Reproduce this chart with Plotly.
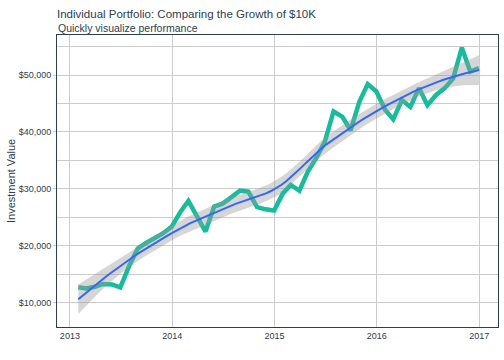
import numpy as np
import pandas as pd
import plotly.graph_objects as go

# Monthly portfolio values (month-end), Jan 2013 - Dec 2016
dates = pd.date_range("2013-01-31", "2016-12-31", freq="ME")
values_2013 = [12700, 12500, 12800, 13300, 13200, 12700, 16400, 19500, 20500, 21300, 22200, 23400]
values_2014 = [26000, 27900, 25000, 22500, 26900, 27400, 28500, 29700, 29500, 26800, 26400, 26200]
values_2015 = [29200, 30700, 29700, 33000, 35500, 38300, 43600, 42700, 40300, 45300, 48400, 47100]
values_2016 = [43900, 42200, 45600, 44400, 47700, 44700, 46500, 47700, 49400, 54800, 50600, 51200]
investment = values_2013 + values_2014 + values_2015 + values_2016

y_ticks = [10000, 20000, 30000, 40000, 50000]
y_tick_labels = ["$10,000", "$20,000", "$30,000", "$40,000", "$50,000"]
x_ticks = ["2013-01-01", "2014-01-01", "2015-01-01", "2016-01-01", "2017-01-01"]
x_tick_labels = ["2013", "2014", "2015", "2016", "2017"]

# ---- loess (span 0.75, degree 2, kd-tree vertices + cubic Hermite interpolation) ----
x = (dates - pd.Timestamp("1970-01-01")).days.values.astype(float)
y = np.array(investment, dtype=float)
n = len(x)
span = 0.75
q = int(np.floor(n * span))
fc = int(np.floor(n * span * 0.2))


def local_rows(x0):
    d = np.abs(x - x0)
    h = np.sort(d)[q - 1]
    u = np.clip(d / h, 0, 1)
    w = (1 - u ** 3) ** 3
    t = (x - x0) / h
    X = np.vstack([np.ones(n), t, t ** 2]).T
    XtW = X.T * w
    A = np.linalg.solve(XtW @ X, XtW)
    return A[0], A[1] / h


xs = np.sort(x)
margin = 0.005 * (xs[-1] - xs[0])
verts = [xs[0] - margin, xs[-1] + margin]


def split(lo, hi):
    pts = xs[lo:hi]
    if len(pts) <= fc:
        return
    m = (len(pts) - 1) // 2
    v = (pts[m] + pts[m + 1]) / 2
    verts.append(v)
    split(lo, lo + m + 1)
    split(lo + m + 1, hi)


split(0, n)
verts = np.array(sorted(verts))
vrows = [local_rows(v) for v in verts]


def interp_row(x0):
    i = np.searchsorted(verts, x0) - 1
    i = min(max(i, 0), len(verts) - 2)
    a, b = verts[i], verts[i + 1]
    dv = b - a
    s = (x0 - a) / dv
    h00 = 2 * s ** 3 - 3 * s ** 2 + 1
    h10 = s ** 3 - 2 * s ** 2 + s
    h01 = -2 * s ** 3 + 3 * s ** 2
    h11 = s ** 3 - s ** 2
    va, sa = vrows[i]
    vb, sb = vrows[i + 1]
    return h00 * va + h10 * dv * sa + h01 * vb + h11 * dv * sb


L = np.array([interp_row(xi) for xi in x])
fitted = L @ y
res = y - fitted
IL = np.eye(n) - L
M = IL.T @ IL
one_delta = np.trace(M)
two_delta = np.trace(M @ M)
sigma = np.sqrt(np.sum(res ** 2) / one_delta)
df = one_delta ** 2 / two_delta
z = 1.959964
tq = z + (z ** 3 + z) / (4 * df) + (5 * z ** 5 + 16 * z ** 3 + 3 * z) / (96 * df ** 2)

xg = np.linspace(x.min(), x.max(), 80)
Lg = np.array([interp_row(xi) for xi in xg])
fit_g = Lg @ y
se_g = sigma * np.sqrt(np.sum(Lg ** 2, axis=1))
upper = fit_g + tq * se_g
lower = fit_g - tq * se_g
dates_g = pd.to_datetime(xg, unit="D")

fig = go.Figure()
fig.add_trace(go.Scatter(x=dates, y=investment, mode="lines",
                         line=dict(color="#18BC9C", width=4.5), showlegend=False))
fig.add_trace(go.Scatter(x=list(dates_g) + list(dates_g[::-1]),
                         y=list(upper) + list(lower[::-1]),
                         mode="lines", fill="toself", fillcolor="rgba(153,153,153,0.4)",
                         line=dict(width=0), showlegend=False, hoverinfo="skip"))
fig.add_trace(go.Scatter(x=dates_g, y=fit_g, mode="lines",
                         line=dict(color="#3366FF", width=2), showlegend=False))

font_fam = "Liberation Sans, Arial, sans-serif"
plot_h = 360 - 35 - 33
fig.update_layout(
    width=504, height=360,
    margin=dict(l=57, r=6, t=35, b=33, autoexpand=False),
    paper_bgcolor="white", plot_bgcolor="white",
    font=dict(family=font_fam, color="#2c3e50"),
    title=dict(text="Individual Portfolio: Comparing the Growth of $10K",
               x=57 / 504, xanchor="left", xref="container",
               y=1 - 14 / 360, yanchor="middle", yref="container",
               pad=dict(l=0, r=0, t=0, b=0),
               font=dict(size=11.5, color="#2c3e50", family=font_fam)),
    annotations=[
        dict(text="Quickly visualize performance", x=0, xref="paper",
             xanchor="left", y=(327 - 27.5) / plot_h, yref="paper", yanchor="middle",
             showarrow=False, xshift=-1, font=dict(size=10.5, color="#2c3e50")),
        dict(text="Investment Value", x=0, xref="paper", xanchor="center", xshift=-46,
             y=0.5, yref="paper", yanchor="middle", textangle=-90, showarrow=False,
             font=dict(size=11, color="#2c3e50")),
    ],
    xaxis=dict(range=["2012-11-16", "2017-03-09"], tickvals=x_ticks, ticktext=x_tick_labels,
               showgrid=True, gridcolor="#CCCCCC", gridwidth=1, zeroline=False,
               showline=True, linecolor="#2c3e50", linewidth=1, mirror=True,
               ticks="", tickfont=dict(size=9, color="#2c3e50"), automargin=False),
    yaxis=dict(range=[5730, 57030], tickvals=y_ticks, ticktext=y_tick_labels,
               showgrid=True, gridcolor="#CCCCCC", gridwidth=1, zeroline=False,
               minor=dict(dtick=5000, tick0=0, showgrid=True, gridcolor="#CCCCCC", gridwidth=1),
               showline=True, linecolor="#2c3e50", linewidth=1, mirror=True,
               ticks="outside", ticklen=3, tickcolor="#CCCCCC",
               tickfont=dict(size=9, color="#2c3e50"), automargin=False),
)
fig.write_html("out.html", config={"displayModeBar": False},
               post_script="document.body.style.margin='0';")
